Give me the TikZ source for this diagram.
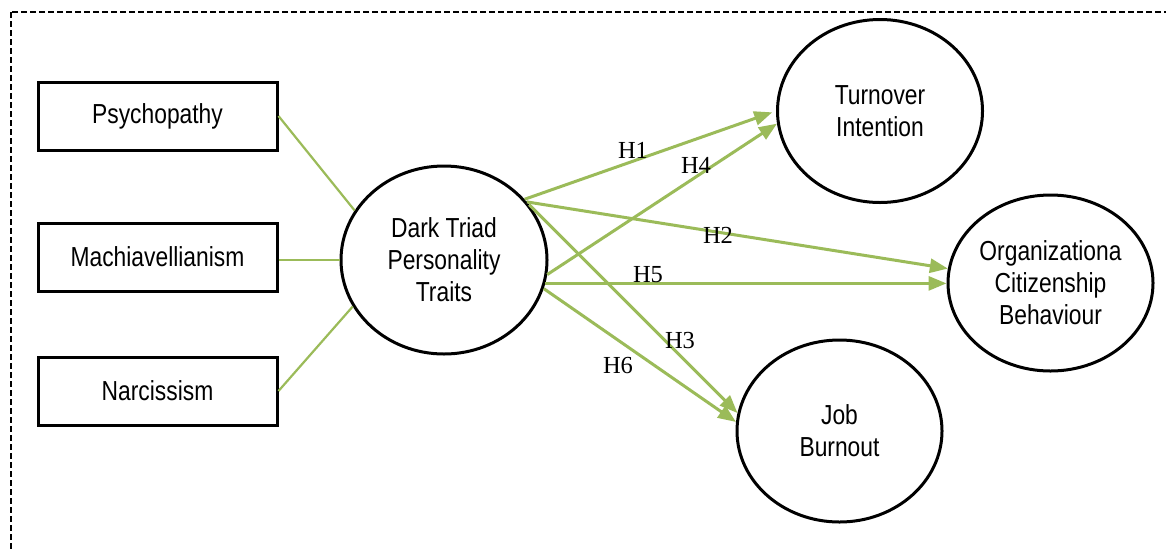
\documentclass[tikz,border=0pt]{standalone}
\usepackage{fontspec}
\setmainfont{Liberation Serif}
\newfontfamily\narrowsans[FakeStretch=0.83]{Liberation Sans}
\usetikzlibrary{shapes.geometric,arrows.meta}
\definecolor{pathgreen}{HTML}{9BBB59}

\begin{document}
\begin{tikzpicture}[x=1pt,y=-1pt,
  construct/.style={draw=black,line width=3pt,rectangle,minimum width=239pt,
    minimum height=68pt,inner sep=0pt,font=\narrowsans\fontsize{27.5}{32}\selectfont},
  latent/.style={draw=black,line width=3pt,ellipse,inner sep=0pt,align=center,
    font=\narrowsans\fontsize{27.5}{32}\selectfont},
  link/.style={draw=pathgreen,line width=2.2pt},
  hyp/.style={draw=pathgreen,line width=3pt,-{Triangle[length=18pt,width=14pt]}},
  hlabel/.style={font=\fontsize{24.5}{28}\selectfont,inner sep=0pt},
  frame/.style={draw=black,line width=2pt,dash pattern=on 6pt off 3pt}
]
\useasboundingbox (0,0) rectangle (1166,550);

% outer dashed frame, running off the right and bottom edges
\begin{scope}
  \clip (0,0) rectangle (1166,550);
  \draw[frame] (11,12) rectangle (1185,565);
\end{scope}

% the three traits
\node[construct] (psy)  at (157.5,116) {Psychopathy};
\node[construct] (mach) at (157.5,257) {Machiavellianism};
\node[construct] (narc) at (157.5,391) {Narcissism};

% latent constructs
\node[latent,minimum width=206pt,minimum height=188pt] (dt) at (444,260)
  {Dark Triad\\Personality\\Traits};
\node[latent,minimum width=205pt,minimum height=183pt] (ti) at (880,111)
  {Turnover\\Intention};
\node[latent,minimum width=205pt,minimum height=176pt] (oc) at (1050.5,283)
  {Organizationa\\Citizenship\\Behaviour};
\node[latent,minimum width=205pt,minimum height=182pt] (jb) at (839.5,431)
  {Job\\Burnout};

% trait links
\draw[link] (psy.east) -- (dt.151);
\draw[link] (dt.west -| mach.east) -- (dt.west);
\draw[link] (narc.east) -- (dt.207);

% hypothesised paths
\draw[hyp,shorten >=4pt] (dt.37) -- (ti.180);
\draw[hyp] (dt.35) -- (oc.172);
\draw[hyp] (dt.33) -- (jb.170);
\draw[hyp] (dt.-8) -- (ti.187);
\draw[hyp] (dt.-13) -- (dt.-13 -| oc.west);
\draw[hyp] (dt.-16) -- (jb.175);

% path labels
\node[hlabel] (h1) at (633,150) {H1};
\node[hlabel] (h4) at (696,165) {H4};
\node[hlabel] (h2) at (718,235) {H2};
\node[hlabel] (h5) at (648,275) {H5};
\node[hlabel] (h3) at (680,340) {H3};
\node[hlabel] (h6) at (618,365) {H6};
\end{tikzpicture}
\end{document}
